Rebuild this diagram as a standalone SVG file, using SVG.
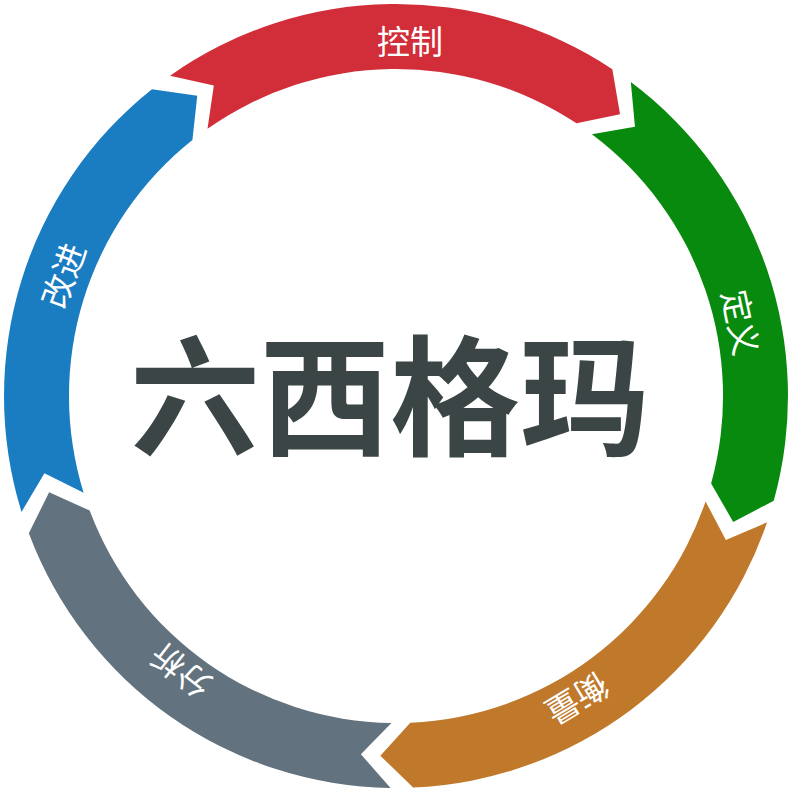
<svg xmlns="http://www.w3.org/2000/svg" width="793" height="789" viewBox="0 0 793 789">
<defs>
<style>
.lbl{fill:#fff;font-family:"Noto Sans CJK SC",sans-serif;font-size:33px;text-anchor:middle;dominant-baseline:central}
.title{fill:#3c4545;font-family:"Noto Sans CJK SC",sans-serif;font-size:130px;font-weight:bold;text-anchor:middle;dominant-baseline:central}
</style>
<path id="s" d="M392,0 A392,392 0 0 1 142.4,365.2 L101.1,345.5 L118.8,304.7 A327,327 0 0 0 327,0 L358.7,30.1 Z"/>
</defs>
<rect width="793" height="789" fill="#fff"/>
<g id="control"><use href="#s" fill="#d12e3a" transform="translate(396,396) rotate(-125.2)"/><text class="lbl" x="410" y="40">控制</text></g>
<g id="define"><use href="#s" fill="#088a0e" transform="translate(396,396) rotate(-53.2)"/><text class="lbl" transform="translate(742,322) rotate(78)">定义</text></g>
<g id="measure"><use href="#s" fill="#c0792b" transform="translate(396,396) rotate(18.8)"/><text class="lbl" transform="translate(578,700) rotate(149)">衡量</text></g>
<g id="analyze"><use href="#s" fill="#62727e" transform="translate(396,396) rotate(90.8)"/><text class="lbl" transform="translate(180,672) rotate(218)">分析</text></g>
<g id="improve"><use href="#s" fill="#1a7cc1" transform="translate(396,396) rotate(162.8)"/><text class="lbl" transform="translate(62,275) rotate(290)">改进</text></g>
<g id="center"><text class="title" x="390" y="388">六西格玛</text></g>
<g id="connectors"/>
</svg>
